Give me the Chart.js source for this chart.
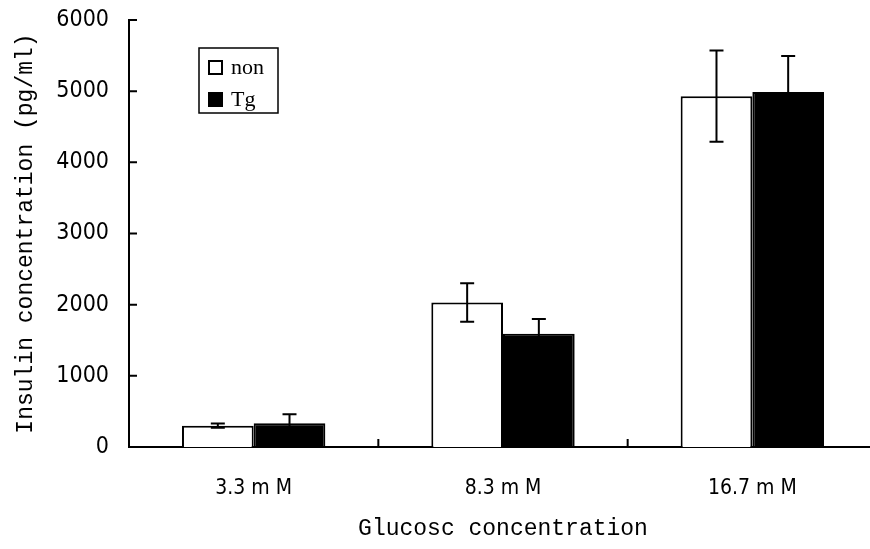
<!DOCTYPE html>
<html>
<head>
<meta charset="utf-8">
<script src="https://cdn.jsdelivr.net/npm/chart.js@4/dist/chart.umd.min.js"></script>
<style>
  body { margin: 0; background: #fff; overflow: hidden; }
</style>
</head>
<body>
<canvas id="insulinChart" width="880" height="549"></canvas>
<script>
// insulin secretion at three glucose levels, non vs Tg

const categories = ["3.3 m M", "8.3 m M", "16.7 m M"];
const nonValues = [300, 2030, 4930];
const nonErrors = [30, 270, 640];
const tgValues = [335, 1590, 4990];
const tgErrors = [125, 210, 505];
const yMax = 6000;
const yStep = 1000;

const monoFont = "'Liberation Mono', 'DejaVu Sans Mono', monospace";
const tickFont = "'Liberation Sans Narrow', 'DejaVu Sans Condensed', sans-serif";

// error bars: whisker + caps for every bar
const errorBars = {
    id: "errorBars",
    afterDatasetsDraw(chart) {
        const ctx = chart.ctx;
        const yScale = chart.scales.y;
        const errs = [nonErrors, tgErrors];
        ctx.save();
        ctx.strokeStyle = "#000";
        ctx.lineWidth = 2;
        chart.data.datasets.forEach((ds, d) => {
            const meta = chart.getDatasetMeta(d);
            meta.data.forEach((bar, i) => {
                const v = ds.data[i];
                const e = errs[d][i];
                const yTop = yScale.getPixelForValue(v + e);
                const yBot = yScale.getPixelForValue(v - e);
                const x = bar.x;
                ctx.beginPath();
                ctx.moveTo(x, yTop);
                ctx.lineTo(x, yBot);
                ctx.moveTo(x - 7, yTop);
                ctx.lineTo(x + 7, yTop);
                ctx.moveTo(x - 7, yBot);
                ctx.lineTo(x + 7, yBot);
                ctx.stroke();
            });
        });
        ctx.restore();
    }
};

// inward tick marks on both axes
const innerTicks = {
    id: "innerTicks",
    afterDraw(chart) {
        const ctx = chart.ctx;
        const area = chart.chartArea;
        const y = chart.scales.y;
        const x = chart.scales.x;
        ctx.save();
        ctx.strokeStyle = "#000";
        ctx.lineWidth = 2;
        ctx.beginPath();
        y.ticks.forEach((t) => {
            const py = y.getPixelForValue(t.value);
            ctx.moveTo(area.left, py);
            ctx.lineTo(area.left + 8, py);
        });
        for (let i = 1; i < categories.length; i++) {
            const px = (x.getPixelForValue(i - 1) + x.getPixelForValue(i)) / 2;
            ctx.moveTo(px, area.bottom);
            ctx.lineTo(px, area.bottom - 8);
        }
        ctx.stroke();
        ctx.restore();
    }
};

// boxed legend inside the plot, upper left
const boxLegend = {
    id: "boxLegend",
    afterDraw(chart) {
        const ctx = chart.ctx;
        const area = chart.chartArea;
        const left = area.left + 70;
        const top = area.top + 28;
        ctx.save();
        ctx.strokeStyle = "#000";
        ctx.lineWidth = 1.5;
        ctx.strokeRect(left, top, 79, 65);
        ctx.font = "22px 'Liberation Serif', serif";
        ctx.textBaseline = "middle";
        chart.data.datasets.forEach((ds, d) => {
            const cy = top + 20 + d * 32;
            ctx.fillStyle = ds.backgroundColor;
            ctx.fillRect(left + 10, cy - 7, 13, 13);
            ctx.lineWidth = 2;
            ctx.strokeRect(left + 10, cy - 7, 13, 13);
            ctx.fillStyle = "#000";
            ctx.fillText(ds.label, left + 32, cy);
        });
        ctx.restore();
    }
};

new Chart("insulinChart", {
    type: "bar",
    data: {
        labels: categories,
        datasets: [
            {
                label: "non",
                data: nonValues,
                backgroundColor: "#fff",
                borderColor: "#000",
                borderWidth: 2,
                categoryPercentage: 0.575,
                barPercentage: 1.0,
            },
            {
                label: "Tg",
                data: tgValues,
                backgroundColor: "#000",
                borderColor: "#000",
                borderWidth: 2,
                categoryPercentage: 0.575,
                barPercentage: 1.0,
            },
        ]
    },
    options: {
        responsive: false,
        animation: false,
        layout: { padding: { top: 20, right: 3, left: 0, bottom: 0 } },
        plugins: {
            legend: { display: false },
            tooltip: { enabled: false },
        },
        scales: {
            x: {
                grid: { display: false, drawTicks: false },
                border: { color: "#000", width: 2 },
                ticks: {
                    color: "#000",
                    padding: 29,
                    font: { family: tickFont, size: 21 },
                },
                title: {
                    display: true,
                    text: "Glucosc concentration",
                    color: "#000",
                    padding: { top: 0, bottom: 6 },
                    font: { family: monoFont, size: 23 },
                },
                afterFit: (scale) => {
                    scale.height = 102;
                    scale.paddingLeft = 0;
                    scale.paddingRight = 0;
                },
            },
            y: {
                min: 0,
                max: yMax,
                grid: { display: false, drawTicks: false },
                border: { color: "#000", width: 2 },
                ticks: {
                    stepSize: yStep,
                    color: "#000",
                    padding: 20,
                    font: { family: tickFont, size: 23 },
                    callback: (v) => String(v),
                },
                title: {
                    display: true,
                    text: "Insulin concentration (pg/ml)",
                    color: "#000",
                    padding: { top: 12, bottom: 0 },
                    font: { family: monoFont, size: 23 },
                },
                afterFit: (scale) => {
                    scale.width = 129;
                    scale.paddingTop = 0;
                    scale.paddingBottom = 0;
                },
            },
        }
    },
    plugins: [errorBars, innerTicks, boxLegend]
});
</script>
</body>
</html>
